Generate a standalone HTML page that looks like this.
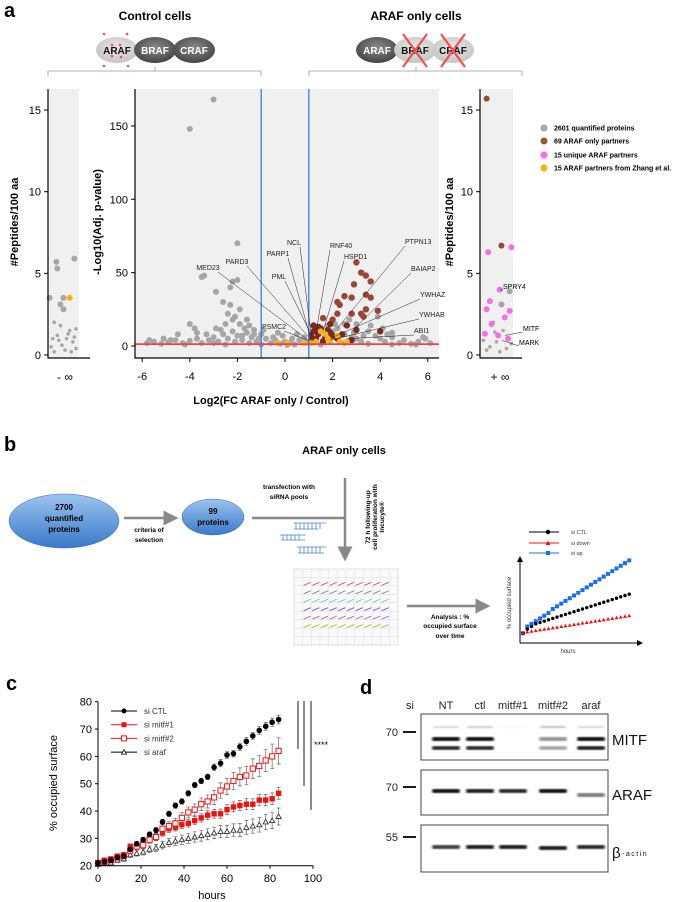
<!DOCTYPE html>
<html><head><meta charset="utf-8">
<style>
html,body{margin:0;padding:0;background:#fff;}
svg{display:block;font-family:"Liberation Sans",Arial,sans-serif;}
</style></head>
<body>
<svg id="fig" width="685" height="902" viewBox="0 0 685 902" xmlns="http://www.w3.org/2000/svg">
<defs>
<radialGradient id="gDark" cx="50%" cy="40%" r="60%"><stop offset="0" stop-color="#8a8a8a"/><stop offset="1" stop-color="#444"/></radialGradient>
<radialGradient id="gLight" cx="50%" cy="40%" r="60%"><stop offset="0" stop-color="#e8e8e8"/><stop offset="1" stop-color="#c4c4c4"/></radialGradient>
<linearGradient id="gBlue" x1="0" y1="0" x2="0" y2="1"><stop offset="0" stop-color="#9cc4f0"/><stop offset="1" stop-color="#3a78c8"/></linearGradient>
<filter id="blur1"><feGaussianBlur stdDeviation="1.1"/></filter>
<marker id="arr" markerWidth="6" markerHeight="6" refX="5" refY="3" orient="auto"><path d="M0,0 L6,3 L0,6 z" fill="#888"/></marker>
<marker id="arrK" markerWidth="6" markerHeight="6" refX="5" refY="3" orient="auto"><path d="M0,0 L6,3 L0,6 z" fill="#000"/></marker>
</defs>

<!-- PANEL A header -->
<text x="4" y="17" font-size="20" font-weight="bold">a</text>
<text x="155" y="20" font-size="12" font-weight="bold" text-anchor="middle">Control cells</text>
<text x="416" y="20" font-size="12" font-weight="bold" text-anchor="middle">ARAF only cells</text>
<g font-size="10" font-weight="bold" text-anchor="middle">
<ellipse cx="117" cy="50" rx="21" ry="13" fill="url(#gLight)"/>
<ellipse cx="155" cy="50" rx="21" ry="13" fill="url(#gDark)"/>
<ellipse cx="194" cy="50" rx="21" ry="13" fill="url(#gDark)"/>
<text x="117" y="54" fill="#111">ARAF</text><text x="155" y="54" fill="#fff">BRAF</text><text x="194" y="54" fill="#fff">CRAF</text>
<g fill="#f05050"><circle cx="104" cy="34" r="1.3"/><circle cx="127" cy="34" r="1.3"/><circle cx="112" cy="45" r="1.3"/><circle cx="120" cy="45" r="1.3"/><circle cx="104" cy="66" r="1.3"/><circle cx="128" cy="66" r="1.3"/><circle cx="112" cy="56" r="1.3"/><circle cx="121" cy="57" r="1.3"/></g>
</g>
<g font-size="10" font-weight="bold" text-anchor="middle">
<ellipse cx="377" cy="50" rx="21" ry="13" fill="url(#gDark)"/>
<ellipse cx="415" cy="50" rx="21" ry="13" fill="url(#gLight)"/>
<ellipse cx="453" cy="50" rx="21" ry="13" fill="url(#gLight)"/>
<text x="377" y="54" fill="#fff">ARAF</text><text x="415" y="54" fill="#111">BRAF</text><text x="453" y="54" fill="#111">CRAF</text>
<g stroke="#f05050" stroke-width="2.2"><line x1="403" y1="34" x2="427" y2="67"/><line x1="427" y1="34" x2="403" y2="67"/><line x1="441" y1="34" x2="465" y2="67"/><line x1="465" y1="34" x2="441" y2="67"/></g>
</g>
<g fill="none" stroke="#999" stroke-width="0.8">
<path d="M48,76 V71 H261 V76 M155,71 V67"/>
<path d="M309,76 V71 H522 V76 M416,71 V67"/>
</g>

<!-- left strip -->
<rect x="48" y="89" width="31" height="269" fill="#f0f0f0"/>
<g id="leftStrip"></g>
<text transform="translate(18,222) rotate(-90)" font-size="11" font-weight="bold" text-anchor="middle">#Peptides/100 aa</text>
<text x="65" y="381" font-size="12" text-anchor="middle">- ∞</text>

<!-- volcano -->
<rect x="135" y="89" width="304" height="269" fill="#f0f0f0"/>
<g id="volcano"></g>
<text transform="translate(101,222) rotate(-90)" font-size="11" font-weight="bold" text-anchor="middle">-Log10(Adj. p-value)</text>
<text x="271" y="404" font-size="11" font-weight="bold" text-anchor="middle">Log2(FC ARAF only / Control)</text>

<!-- right strip -->
<rect x="480" y="89" width="33" height="269" fill="#f0f0f0"/>
<g id="rightStrip"></g>
<text transform="translate(453,222) rotate(-90)" font-size="11" font-weight="bold" text-anchor="middle">#Peptides/100 aa</text>
<text x="500" y="381" font-size="12" text-anchor="middle">+ ∞</text>

<g font-size="7" font-weight="bold">
<g><circle cx="544" cy="128" r="3.5" fill="#a6a6a6"/><text x="554" y="130.5">2601 quantified proteins</text></g>
<g><circle cx="544" cy="141" r="3.5" fill="#9a5a3a"/><text x="554" y="143.5">69 ARAF only partners</text></g>
<g><circle cx="544" cy="155" r="3.5" fill="#f56ee6"/><text x="554" y="157.5">15 unique ARAF partners</text></g>
<g><circle cx="544" cy="168" r="3.5" fill="#f5b316"/><text x="554" y="170.5">15 ARAF partners from Zhang et al.</text></g>
</g>

<!-- PANEL B -->
<text x="4" y="451" font-size="20" font-weight="bold">b</text>
<text x="344" y="454" font-size="11" font-weight="bold" text-anchor="middle">ARAF only cells</text>
<g>
<ellipse cx="64" cy="521" rx="55" ry="27" fill="url(#gBlue)" stroke="#3a6aa8" stroke-width="0.5"/>
<text x="64" y="510" font-size="8" font-weight="bold" text-anchor="middle">2700</text>
<text x="64" y="521" font-size="8" font-weight="bold" text-anchor="middle">quantified</text>
<text x="64" y="532" font-size="8" font-weight="bold" text-anchor="middle">proteins</text>
</g>
<line x1="124" y1="518" x2="176" y2="518" stroke="#888" stroke-width="2.5" marker-end="url(#arr)"/>
<text x="149" y="532" font-size="6.5" font-weight="bold" text-anchor="middle">criteria of</text>
<text x="149" y="542" font-size="6.5" font-weight="bold" text-anchor="middle">selection</text>
<g>
<ellipse cx="213" cy="517" rx="31" ry="18" fill="url(#gBlue)" stroke="#3a6aa8" stroke-width="0.5"/>
<text x="213" y="514" font-size="8" font-weight="bold" text-anchor="middle">99</text>
<text x="213" y="525" font-size="8" font-weight="bold" text-anchor="middle">proteins</text>
</g>
<path d="M252,518 H345 M345,478 V559" stroke="#888" stroke-width="2.5" fill="none" marker-end="url(#arr)"/>
<text x="289" y="489" font-size="6.5" font-weight="bold" text-anchor="middle">transfection with</text>
<text x="289" y="499" font-size="6.5" font-weight="bold" text-anchor="middle">siRNA pools</text>
<g font-size="6.5" font-weight="bold" text-anchor="middle">
<text transform="translate(370,517) rotate(-90)">72 h following-up</text>
<text transform="translate(377,517) rotate(-90)">cell proliferation with</text>
<text transform="translate(384,517) rotate(-90)">Incucyte®</text>
</g>
<g stroke="#4a80d8" stroke-width="0.8" fill="none">
<path d="M294,523 H326 M296,523 v6 M300,523 v6 M304,523 v6 M308,523 v6 M312,523 v6 M316,523 v6 M320,523 v6 M294,529 H318"/>
<path d="M280,535 H306 M283,535 v5 M287,535 v5 M291,535 v5 M295,535 v5 M299,535 v5 M281,540 H305"/>
<path d="M297,547 H326 M300,547 v6 M304,547 v6 M308,547 v6 M312,547 v6 M316,547 v6 M320,547 v6 M298,553 H324"/>
</g>
<g id="plate"></g>
<line x1="407" y1="606" x2="488" y2="606" stroke="#888" stroke-width="2.5" marker-end="url(#arr)"/>
<g font-size="6.5" font-weight="bold" text-anchor="middle">
<text x="450" y="619">Analysis : %</text><text x="450" y="628">occupied surface</text><text x="450" y="638">over time</text>
</g>
<g id="mini"></g>

<!-- PANEL C -->
<text x="6" y="690" font-size="20" font-weight="bold">c</text>
<g id="growth"></g>
<text transform="translate(57,783) rotate(-90)" font-size="11" text-anchor="middle">% occupied surface</text>
<text x="212" y="899" font-size="11" text-anchor="middle">hours</text>

<!-- PANEL D -->
<text x="360" y="694" font-size="20" font-weight="bold">d</text>
<g id="blot"></g>

<script>
const NS="http://www.w3.org/2000/svg";
function mk(parent,tag,attrs,text){const e=document.createElementNS(NS,tag);for(const k in attrs)e.setAttribute(k,attrs[k]);if(text!==undefined)e.textContent=text;parent.appendChild(e);return e;}

/* ---------- Volcano data ---------- */
const grayPts=[[-5.8,2],[-5.5,3],[-5.2,1.5],[-4.9,2.5],[-4.6,4],[-4.3,2],[-4,3.5],[-3.7,5],[-3.5,2],[-3.2,4],[-3,6],[-2.8,3],[-2.6,8],[-2.4,5],[-2.2,10],[-2,7],[-1.8,4],[-1.6,9],[-1.4,6],[-1.2,3],[-1,8],[-0.8,5],[-0.6,2],[-0.4,4],[-0.2,1.5],[0,3],[0.2,2],[0.4,1],[0.6,4],[0.8,6],[1,2],[1.2,3],[2,10],[2.2,12],[2.5,8],[2.8,6],[3,5],[3.2,3],[3.5,10],[3.8,7],[4,5],[4.2,3],[4.5,6],[4.8,2],[5,4],[5.3,1.5],[5.6,3],[5.9,5],[6.1,2],[-4,15],[-3.8,12],[-2.9,12],[-2.5,15],[-2.2,18],[-1.9,15],[-1.7,12],[-1.5,14],[-1.3,11],[-2.1,20],[-1.9,25],[-2.3,28],[-2.6,30],[-2.9,37],[-2.3,40],[-2,45],[-2.2,44],[-3.5,47],[-3.4,48],[-2,70],[-4,148],[-3,168],[2.5,15],[3,15],[2.7,18],[3.6,14],[4.1,12],[4.5,9],[3.9,20],[4.3,8],[-0.5,6],[-1.1,5],[-3.3,8],[-4.5,8],[-5.1,5],[0.3,5],[-0.1,7],[1.8,14],[2.1,15],[-2.4,22],[-1.6,18],[5.8,6],[-5.7,4],[-0.9,11],[-0.3,9],[0.5,8],[-1.5,2],[-2.5,1],[-3,2],[-4.2,1],[-1,1],[0.1,0.8],[1.5,1],[2.5,2],[3.5,1.5],[4.5,1],[5.5,1],[-2.7,11],[-1.8,7],[-2.1,3],[-1.3,8],[-3.7,9],[-4.8,4],[3.3,7],[2.9,9],[1.6,4],[0.9,3]];
const brownPts=[[3,57],[3.2,50],[3.4,48],[2.9,42],[3.6,44],[3.4,35],[3.6,33],[2.8,33],[2.5,34],[2.2,30],[2.3,28],[2.2,22],[3.4,25],[3.9,24],[2.8,22],[3.2,22],[3.3,20],[1.6,19],[2,18],[4,10],[1.5,12],[1.8,11],[1.2,10],[1.4,8],[1.7,6],[1.3,5],[2,7],[1.1,4],[2.4,8],[3,11],[2.6,14],[1.2,14],[1.4,13],[1.9,9],[2.2,5],[1.6,3],[1.1,7],[1.3,11],[2.8,4],[1.9,15]];
const yellowPts=[[1.5,10],[1.7,8],[1.8,5],[1.3,3],[2.3,3],[2.6,3],[1.9,3],[-0.3,2],[0.1,2],[0.8,2],[1.1,2],[2.2,7]];
const volXTicks=[-6,-4,-2,0,2,4,6];
const volYTicks=[0,50,100,150];
const volLabels=[["NCL",1.1,8],["PARP1",1.05,7],["PARD3",1.0,6],["MED23",0.9,5],["PML",1.15,6],["PSMC2",0.95,4],["RNF40",1.3,9],["HSPD1",1.6,10],["PTPN13",2.2,12],["BAIAP2",2.8,10],["YWHAZ",2.0,6],["YWHAB",1.9,4],["ABI1",2.6,5]];
const volLabelPos=[[294,245],[278,256],[237,264],[208,270],[279,279],[274,329],[330,248],[344,259],[405,244],[411,271],[420,297],[419,317],[414,333]];

const vx=v=>285+v*23.8, vy=v=>346-v*1.467;
const vol=document.getElementById('volcano');
grayPts.forEach(p=>{const c=mk(vol,'circle',{cx:vx(p[0]),cy:vy(p[1]),r:3,fill:'#a6a6a6'});

});
brownPts.forEach(p=>{const c=mk(vol,'circle',{cx:vx(p[0]),cy:vy(p[1]),r:3.2,fill:p[1]>16?'#9a4536':'#7a2a22'});

});
yellowPts.forEach(p=>{const c=mk(vol,'circle',{cx:vx(p[0]),cy:vy(p[1]),r:3,fill:'#f5b316'});

});
[-1,1].forEach(v=>{const l=mk(vol,'line',{x1:vx(v),x2:vx(v),y1:89,y2:358,stroke:'#2f7fe6','stroke-width':1.3});

});
{const l=mk(vol,'line',{x1:135,x2:439,y1:vy(1.3),y2:vy(1.3),stroke:'#f04444','stroke-width':1.8});

}
volLabels.forEach((L,i)=>{const [lx,ly]=volLabelPos[i];
const left=lx<300&&L[0]!=="RNF40";
const ln=mk(vol,'line',{x1:left?lx+(L[0].length*2):lx,y1:ly+2,x2:vx(L[1]),y2:vy(L[2]),stroke:'#222','stroke-width':0.5});


const t=mk(vol,'text',{x:lx,y:ly,'font-size':7,'text-anchor':left?'middle':'start',fill:'#222'},L[0]);

});
{const a=mk(vol,'path',{d:'M135,89 V358 H439',fill:'none',stroke:'#000','stroke-width':1.2});

}
volXTicks.forEach(v=>{mk(vol,'line',{x1:vx(v),x2:vx(v),y1:358,y2:362,stroke:'#000'});
const t=mk(vol,'text',{x:vx(v),y:380,'font-size':11,'text-anchor':'middle'},v);

});
volYTicks.forEach(v=>{mk(vol,'line',{x1:131,x2:135,y1:vy(v),y2:vy(v),stroke:'#000'});
const t=mk(vol,'text',{x:128,y:vy(v)+4,'font-size':11,'text-anchor':'end'},v);

});

/* ---------- side strips ---------- */
const leftGray=[[0.27,5.7],[0.3,5.3],[0.85,5.9],[0.05,3.5],[0.5,3.5],[0.4,3.1],[0.5,2.8],[0.2,2],[0.4,1.8],[0.7,1.5],[0.9,1.6],[0.3,1.2],[0.6,1.0],[0.8,0.8],[0.1,0.5],[0.45,0.6],[0.2,0.2],[0.55,0.3],[0.75,0.2],[0.9,0.4],[0.35,0.9],[0.65,1.3],[0.15,1.0],[0.85,1.1]];
const leftYellow=[[0.7,3.5]];
const rightBrown=[[0.2,15.7],[0.65,6.7]];
const rightPink=[[0.25,6.3],[0.95,6.6],[0.6,4],[0.3,3.3],[0.2,2.8],[0.9,2.7],[0.75,2.3],[0.15,1.3],[0.55,1.2],[0.85,1.0],[0.35,1.9]];
const rightGray=[[0.9,3.9],[0.4,2],[0.7,1.5],[0.5,0.8],[0.3,0.5],[0.8,0.4],[0.6,0.2],[0.2,0.3],[0.45,1.4],[0.1,0.9],[0.95,0.7],[0.65,3.1]];
const stripTicks=[0,5,10,15];
const sy=v=>355-v*16.33;
function strip(g,x0,w,sets,axisX,axisEnd){
 sets.forEach(([arr,col,name])=>arr.forEach(p=>{const c=mk(g,'circle',{cx:x0+p[0]*w,cy:sy(p[1]),r:(p[1]<2.5&&col==='#a6a6a6')?1.8:3,fill:col});
 
 }));
 mk(g,'path',{d:`M${axisX},89 V358 H${axisEnd}`,fill:'none',stroke:'#000','stroke-width':1.2});
 stripTicks.forEach(v=>{mk(g,'line',{x1:axisX-4,x2:axisX,y1:sy(v),y2:sy(v),stroke:'#000'});
 const t=mk(g,'text',{x:axisX-7,y:sy(v)+4,'font-size':11,'text-anchor':'end'},v);
 
 });
}
strip(document.getElementById('leftStrip'),48,31,[[leftGray,'#a6a6a6','gray-protein-point'],[leftYellow,'#f5b316','zhang-partner-point']],48,90);
const rs=document.getElementById('rightStrip');
strip(rs,480,33,[[rightGray,'#a6a6a6','gray-protein-point'],[rightBrown,'#9a4536','araf-only-partner-point'],[rightPink,'#f56ee6','unique-partner-point']],480,522);
[["SPRY4",503,289,500,sy(4)],["MITF",523,331,505,sy(1.2)],["MARK",519,345,502,sy(0.9)]].forEach(a=>{
 mk(rs,'line',{x1:a[1],y1:a[2]+1,x2:a[3],y2:a[4],stroke:'#222','stroke-width':0.5});
 const t=mk(rs,'text',{x:a[1],y:a[2],'font-size':7},a[0]);
 
 });

/* ---------- plate ---------- */
const plate=document.getElementById('plate');
mk(plate,'rect',{x:294,y:569,width:104,height:76,fill:'#fafafa',stroke:'#ccc','stroke-width':0.6});
for(let i=1;i<12;i++)mk(plate,'line',{x1:294+i*104/12,x2:294+i*104/12,y1:569,y2:645,stroke:'#ddd','stroke-width':0.5});
for(let j=1;j<9;j++)mk(plate,'line',{x1:294,x2:398,y1:569+j*76/9,y2:569+j*76/9,stroke:'#ddd','stroke-width':0.5});
const rowCols=['#c05050','#888','#5cc8c0','#6a5cc8','#b050c8','#9cc040'];
rowCols.forEach((c,j)=>{for(let i=1;i<11;i++){const x=294+i*104/12+1,y=569+(j+1.7)*76/9;mk(plate,'line',{x1:x,y1:y+2,x2:x+7,y2:y-1,stroke:c,'stroke-width':0.9});}});

/* ---------- schematic mini chart ---------- */
const miniN=[0,1,2,3,4,5,6,7,8,9,10,11,12,13,14,15,16,17,18,19,20,21,22,23,24,25];
const miniBlue=[2,7,9,11,13,15,17,20,22,24,26,28,30,32,34,36,38,40,42,44,46,48,50,52,54,56];
const miniBlack=[2,5,7,9,10,11,12,13,14,15,16,17,18,19,20,21,22,23,24,25,26,27,28,29,30,31];
const miniRed=[2,3,3.5,4,4.5,5,5.5,6,6.5,7,7.5,8,8.5,9,9.5,10,10.5,11,11.5,12,12.5,13,13.5,14,14.5,15];
const mini=document.getElementById('mini');
const mx=i=>523+i*4.25, my=v=>636-v*1.35;
mk(mini,'path',{d:'M520,643 V557',stroke:'#000','stroke-width':1,'marker-end':'url(#arrK)',fill:'none'});
mk(mini,'path',{d:'M520,643 H642',stroke:'#000','stroke-width':1,'marker-end':'url(#arrK)',fill:'none'});
miniN.forEach((n,i)=>{
 const b=mk(mini,'rect',{x:mx(n)-2,y:my(miniBlue[i])-2,width:4,height:4,fill:'#1a6cf0'});
 
 
 const k=mk(mini,'circle',{cx:mx(n),cy:my(miniBlack[i]),r:1.7,fill:'#000'});
 
 
 const r=mk(mini,'path',{d:`M${mx(n)-2},${my(miniRed[i])+1.5} L${mx(n)},${my(miniRed[i])-2} L${mx(n)+2},${my(miniRed[i])+1.5} z`,fill:'#f01010'});
 
 });
[['si CTL','#000',532],['si down','#f01010',543],['si up','#1a6cf0',553]].forEach((L,i)=>{
 mk(mini,'line',{x1:529,x2:559,y1:L[2],y2:L[2],stroke:L[1],'stroke-width':1});
 if(i===0)mk(mini,'circle',{cx:548,cy:L[2],r:2.2,fill:L[1]});
 if(i===1)mk(mini,'path',{d:`M545.5,${L[2]+2} L548,${L[2]-2.5} L550.5,${L[2]+2} z`,fill:L[1]});
 if(i===2)mk(mini,'rect',{x:546,y:L[2]-2,width:4,height:4,fill:L[1]});
 const t=mk(mini,'text',{x:571,y:L[2]+2,'font-size':5.5,fill:'#333'},L[0]);
 
 });
mk(mini,'text',{x:511,y:603,'font-size':6,transform:'rotate(-90 511 603)','text-anchor':'middle',fill:'#333'},'% occupied surface');
mk(mini,'text',{x:568,y:653,'font-size':6,'text-anchor':'middle',fill:'#333'},'hours');

/* ---------- growth chart (panel c) ---------- */
const hours=[0,3,6,9,12,15,18,21,24,27,30,33,36,39,42,45,48,51,54,57,60,63,66,69,72,75,78,81,84];
const ctl=[21,21.5,22,23,23.5,26,28,29.5,31.5,33,36,39,42,43.5,46.5,49.5,51,52.5,56,57.5,60.5,61,63.5,65.5,67.5,69.5,71,72.5,73.5];
const ctlErr=[0.5,0.6,0.7,0.7,0.8,0.8,0.9,0.9,0.9,1,1,1,1,1,1,1,1,1,1.2,1.3,1.2,1.2,1.3,1.4,1.3,1.4,1.4,1.5,1.6];
const mitf1=[21,22,22.5,23.5,24,27,27.5,28,30,30.5,32,33.5,34,35,35.5,36.5,37.5,38.5,39,39,40.5,41.5,42,42.5,42.5,44,44,44.5,46.5];
const mitf1Err=[0.5,0.6,0.7,0.8,0.8,1,1,1.1,1.1,1.2,1.2,1.3,1.3,1.4,1.4,1.5,1.5,1.6,1.6,1.7,1.8,1.8,1.9,2,2,2,2.1,2.1,2.2];
const mitf2=[21,21.5,22,23,23.5,25.5,27,27.5,29.5,30.5,33.5,34.5,35.5,37.5,39.5,40.5,42.5,43.5,45,47.5,49,51,52.5,53,55.5,56.5,58.5,60,62];
const mitf2Err=[0.5,0.6,0.7,0.8,0.9,1,1.1,1.2,1.3,1.4,1.5,1.6,1.8,1.9,2,2.1,2.3,2.4,2.6,2.8,3,3.1,3.3,3.4,3.6,3.8,4,4.5,4.8];
const araf=[20.5,21,21,22,22.5,24,24.5,25,26,26.5,27.5,28.5,29,29.5,30,30.5,31,31.5,32,32.5,32.5,33,33,34,34.5,35,36,36.5,38];
const arafErr=[0.5,0.6,0.7,0.8,0.9,1,1,1.1,1.2,1.3,1.4,1.5,1.6,1.7,1.8,1.9,2,2,2.1,2.2,2.2,2.3,2.4,2.5,2.6,2.7,2.8,2.9,3.1];
const gxTicks=[0,20,40,60,80,100];
const gyTicks=[20,30,40,50,60,70,80];
const gx=v=>98+v*2.15, gy=v=>865.7-(v-20)*2.733;
const gr=document.getElementById('growth');
function series(vals,errs,kind,name){
 const g=mk(gr,'g',{});
 
 
 hours.forEach((h,i)=>{const x=gx(h),y=gy(vals[i]),e=errs[i]*2.733;
  mk(g,'path',{d:`M${x},${y-e} V${y+e} M${x-2},${y-e} H${x+2} M${x-2},${y+e} H${x+2}`,stroke:'#666','stroke-width':0.7,fill:'none'});
  let m;
  if(kind==='dot')m=mk(g,'circle',{cx:x,cy:y,r:2.8,fill:'#000'});
  else if(kind==='sq')m=mk(g,'rect',{x:x-2.7,y:y-2.7,width:5.4,height:5.4,fill:'#f01010'});
  else if(kind==='osq')m=mk(g,'rect',{x:x-2.6,y:y-2.6,width:5.2,height:5.2,fill:'#fff',stroke:'#f01010','stroke-width':1});
  else m=mk(g,'path',{d:`M${x-2.6},${y+2} L${x},${y-2.6} L${x+2.6},${y+2} z`,fill:'#fff',stroke:'#333','stroke-width':0.9});
  
  });
}
series(araf,arafErr,'tri','si-araf-series');
series(mitf1,mitf1Err,'sq','si-mitf1-series');
series(mitf2,mitf2Err,'osq','si-mitf2-series');
series(ctl,ctlErr,'dot','si-ctl-series');
mk(gr,'path',{d:`M98,${gy(80)} V${gy(20)} H${gx(100)}`,fill:'none',stroke:'#000','stroke-width':1});
gxTicks.forEach(v=>{mk(gr,'line',{x1:gx(v),x2:gx(v),y1:gy(20),y2:gy(20)+3,stroke:'#000'});
 const t=mk(gr,'text',{x:gx(v),y:882,'font-size':11,'text-anchor':'middle'},v);
 
 });
gyTicks.forEach(v=>{mk(gr,'line',{x1:95,x2:98,y1:gy(v),y2:gy(v),stroke:'#000'});
 const t=mk(gr,'text',{x:92,y:gy(v)+4,'font-size':11,'text-anchor':'end'},v);
 
 });
[['si CTL','dot'],['si mitf#1','sq'],['si mitf#2','osq'],['si araf','tri']].forEach((L,i)=>{
 const y=711+i*13.7;const g=mk(gr,'g',{});
 
 
 const col=(L[1]==='sq'||L[1]==='osq')?'#f01010':'#000';
 mk(g,'line',{x1:111,x2:137,y1:y,y2:y,stroke:col,'stroke-width':1});
 if(L[1]==='dot')mk(g,'circle',{cx:124,cy:y,r:2.5,fill:'#000'});
 if(L[1]==='sq')mk(g,'rect',{x:121.5,y:y-2.5,width:5,height:5,fill:'#f01010'});
 if(L[1]==='osq')mk(g,'rect',{x:121.5,y:y-2.5,width:5,height:5,fill:'#fff',stroke:'#f01010'});
 if(L[1]==='tri')mk(g,'path',{d:`M121.5,${y+2} L124,${y-2.5} L126.5,${y+2} z`,fill:'#fff',stroke:'#000','stroke-width':0.8});
 mk(g,'text',{x:144,y:y+3,'font-size':8,fill:'#333'},L[0]);});
[[298,749],[304,786],[311,810]].forEach(s=>{const l=mk(gr,'line',{x1:s[0],x2:s[0],y1:701,y2:s[1],stroke:'#000','stroke-width':0.9});
 
 });
{const t=mk(gr,'text',{x:314,y:748,'font-size':9},'****');

}

/* ---------- western blot ---------- */
const lanes=['NT','ctl','mitf#1','mitf#2','araf'];
const laneX=[446,480,513,553,591];
const mitfUpper=[1,1,0.02,0.45,1];
const mitfLower=[0.95,0.95,0.02,0.4,1];
const mitfFaint=[0.2,0.25,0.05,0.3,0.2];
const arafBand=[1,0.95,0.9,1,0.55];
const actinBand=[0.8,0.95,0.95,0.95,0.9];
const bl=document.getElementById('blot');
{const t=mk(bl,'text',{x:410,y:709,'font-size':11,'text-anchor':'middle',fill:'#222'},'si');
}
lanes.forEach((l,i)=>{const t=mk(bl,'text',{x:laneX[i],y:709,'font-size':11,'text-anchor':'middle',fill:'#222'},l);
 
 });
const boxes=[[714,760,'MITF',740,'70',732],[770,815,'ARAF',797,'70',787],[825,872,'β',856,'55',837]];
boxes.forEach(b=>{const r=mk(bl,'rect',{x:421,y:b[0],width:187,height:b[1]-b[0],fill:'#fff',stroke:'#444','stroke-width':1});
 
 mk(bl,'line',{x1:403,x2:416,y1:b[5],y2:b[5],stroke:'#000','stroke-width':1.8});
 const m=mk(bl,'text',{x:398,y:b[5]+4,'font-size':11,'text-anchor':'end',fill:'#222'},b[4]);
 });
{const t=mk(bl,'text',{x:612,y:745,'font-size':15,fill:'#111'},'MITF');}
{const t=mk(bl,'text',{x:612,y:800,'font-size':15,fill:'#111'},'ARAF');}
{const t=mk(bl,'text',{x:612,y:858,'font-size':15,fill:'#111'},'β');
 mk(bl,'text',{x:622,y:856,'font-size':7,'letter-spacing':'1.5',fill:'#111'},'-actin');}
function band(x,y,w,h,a,name){if(a<=0.03)return;const e=mk(bl,'rect',{x:x-w/2,y:y-h/2,width:w,height:h,rx:2,fill:'#000','fill-opacity':a,filter:'url(#blur1)'});
 }
laneX.forEach((x,i)=>{
 band(x,727,26,2,mitfFaint[i],'mitf-faint-band');
 band(x,739,28,4,mitfUpper[i],'mitf-upper-band');
 band(x,748,28,3.5,mitfLower[i],'mitf-lower-band');
 band(x,i===4?795:791,28,4,arafBand[i],'araf-band');
 band(x,i===3?848:847,28,4,actinBand[i],'actin-band');});
</script>
</svg>
</body></html>
